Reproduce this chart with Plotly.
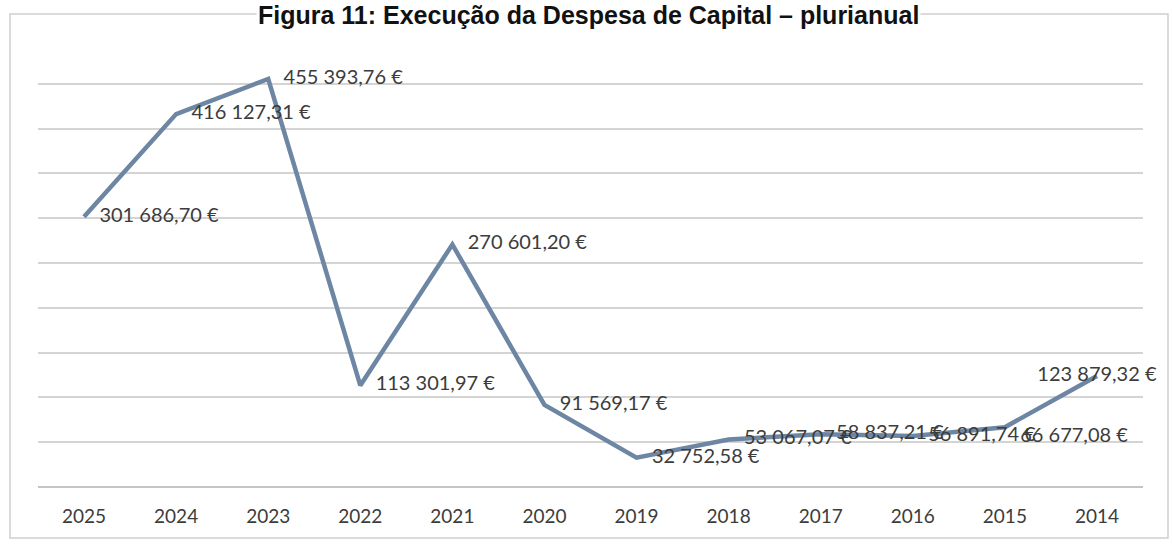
import plotly.graph_objects as go

years = ["2025", "2024", "2023", "2022", "2021", "2020", "2019", "2018", "2017", "2016", "2015", "2014"]
values = [301686.70, 416127.31, 455393.76, 113301.97, 270601.20, 91569.17, 32752.58, 53067.07, 58837.21, 56891.74, 66677.08, 123879.32]
positions = ["middle right"] * 10 + ["bottom right", "middle center"]
title = "Figura 11: Execução da Despesa de Capital – plurianual"


def fmt(v):
    return f"{v:,.2f}".replace(",", " ").replace(".", ",") + " €"


labels = [("\u00a0\u00a0\u00a0" if p != "middle center" else "") + fmt(v) for v, p in zip(values, positions)]

L, R, T, B = 38, 30, 38, 58
W, H = 1173, 545
pw, ph = W - L - R, H - T - B


def px_x(x):
    return (x - L) / pw


def px_y(y):
    return (H - B - y) / ph


fig = go.Figure()
fig.add_trace(go.Scatter(
    x=years, y=values, mode="lines+text",
    line=dict(color="#6d86a3", width=4.5),
    text=labels,
    textposition=positions,
    textfont=dict(family="Lato", size=20, color="#3c3c3c"),
    cliponaxis=False, hoverinfo="skip",
))

fig.update_layout(
    width=W, height=H,
    margin=dict(l=L, r=R, t=T, b=B),
    paper_bgcolor="white", plot_bgcolor="white",
    showlegend=False,
    xaxis=dict(type="category", range=[-0.5, 11.5], showgrid=False, showline=False, zeroline=False,
               tickfont=dict(family="Lato", size=19, color="#3c3c3c"), ticklabelstandoff=16),
    yaxis=dict(range=[0, 501000], tickvals=[0, 50000, 100000, 150000, 200000, 250000, 300000,
                                             350000, 400000, 450000, 500000],
               showticklabels=False, showgrid=True,
               gridcolor="#d4d4d4", gridwidth=1.5, zeroline=True, zerolinecolor="#c4c4c4", zerolinewidth=1.5),
    shapes=[dict(type="rect", xref="paper", yref="paper", x0=px_x(10), x1=px_x(1168),
                 y0=px_y(538), y1=px_y(14),
                 line=dict(color="#cfcfcf", width=1.5), layer="below")],
    annotations=[dict(text="<b>" + title + "</b>", xref="paper", yref="paper",
                      x=px_x(588), y=px_y(15), xanchor="center", yanchor="middle", showarrow=False,
                      bgcolor="white",
                      font=dict(family="Liberation Sans", size=25, color="#111111"))],
)

fig.write_html("out.html", config={"displayModeBar": False},
               post_script="document.body.style.margin='0';document.body.style.overflow='hidden';")
